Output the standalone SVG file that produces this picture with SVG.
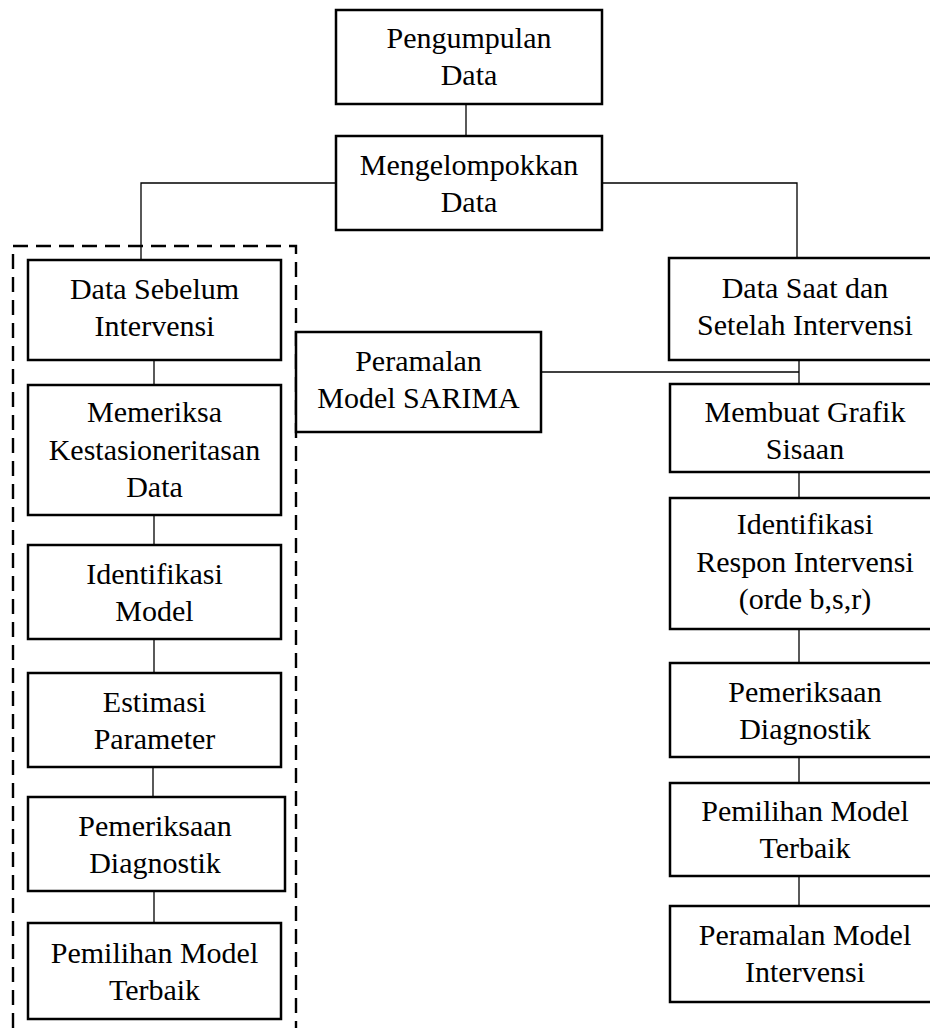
<svg xmlns="http://www.w3.org/2000/svg" width="930" height="1028" viewBox="0 0 930 1028">
<style>
.box{fill:#fff;stroke:#000;stroke-width:2.5}
.t{font-family:"Liberation Serif","Times New Roman",serif;font-size:30px;fill:#000;text-anchor:middle}
.c{fill:none;stroke:#000;stroke-width:1.3}
.dash{fill:none;stroke:#000;stroke-width:2.4;stroke-dasharray:15 8}
</style>
<rect width="930" height="1028" fill="#fff"/>
<path class="dash" d="M13,1028 V246 H296 V1028"/>
<g id="connectors">
<path class="c" d="M466,104 V136"/>
<path class="c" d="M336,183 H141 V260"/>
<path class="c" d="M602,183 H797 V258"/>
<path class="c" d="M154,360 V385"/>
<path class="c" d="M154,515 V545"/>
<path class="c" d="M154,639 V673"/>
<path class="c" d="M153,767 V797"/>
<path class="c" d="M154,891 V923"/>
<path class="c" d="M541,372 H799"/>
<path class="c" d="M799,360 V384"/>
<path class="c" d="M799,472 V498"/>
<path class="c" d="M799,629 V663"/>
<path class="c" d="M799,757 V783"/>
<path class="c" d="M799,876 V906"/>
</g>
<g id="n1"><rect class="box" x="336" y="10" width="266" height="94"/><text class="t" x="469" y="48">Pengumpulan</text><text class="t" x="469" y="85">Data</text></g>
<g id="n2"><rect class="box" x="336" y="136" width="266" height="94"/><text class="t" x="469" y="175">Mengelompokkan</text><text class="t" x="469" y="212">Data</text></g>
<g id="n3"><rect class="box" x="28" y="260" width="253" height="100"/><text class="t" x="154.5" y="299">Data Sebelum</text><text class="t" x="154.5" y="336">Intervensi</text></g>
<g id="n4"><rect class="box" x="28" y="385" width="253" height="130"/><text class="t" x="154.5" y="422">Memeriksa</text><text class="t" x="154.5" y="460">Kestasioneritasan</text><text class="t" x="154.5" y="497">Data</text></g>
<g id="n5"><rect class="box" x="28" y="545" width="253" height="94"/><text class="t" x="154.5" y="584">Identifikasi</text><text class="t" x="154.5" y="621">Model</text></g>
<g id="n6"><rect class="box" x="28" y="673" width="253" height="94"/><text class="t" x="154.5" y="712">Estimasi</text><text class="t" x="154.5" y="749">Parameter</text></g>
<g id="n7"><rect class="box" x="28" y="797" width="257" height="94"/><text class="t" x="155" y="836">Pemeriksaan</text><text class="t" x="155" y="873">Diagnostik</text></g>
<g id="n8"><rect class="box" x="28" y="923" width="253" height="96"/><text class="t" x="154.5" y="963">Pemilihan Model</text><text class="t" x="154.5" y="1000">Terbaik</text></g>
<g id="n9"><rect class="box" x="296" y="332" width="245" height="100"/><text class="t" x="418.5" y="371">Peramalan</text><text class="t" x="418.5" y="408">Model SARIMA</text></g>
<g id="n10"><rect class="box" x="669" y="258" width="280" height="102"/><text class="t" x="805" y="298">Data Saat dan</text><text class="t" x="805" y="335">Setelah Intervensi</text></g>
<g id="n11"><rect class="box" x="670" y="384" width="280" height="88"/><text class="t" x="805" y="422">Membuat Grafik</text><text class="t" x="805" y="459">Sisaan</text></g>
<g id="n12"><rect class="box" x="670" y="498" width="280" height="131"/><text class="t" x="805" y="534">Identifikasi</text><text class="t" x="805" y="572">Respon Intervensi</text><text class="t" x="805" y="609">(orde b,s,r)</text></g>
<g id="n13"><rect class="box" x="670" y="663" width="280" height="94"/><text class="t" x="805" y="702">Pemeriksaan</text><text class="t" x="805" y="739">Diagnostik</text></g>
<g id="n14"><rect class="box" x="670" y="783" width="280" height="93"/><text class="t" x="805" y="821">Pemilihan Model</text><text class="t" x="805" y="858">Terbaik</text></g>
<g id="n15"><rect class="box" x="670" y="906" width="280" height="96"/><text class="t" x="805" y="945">Peramalan Model</text><text class="t" x="805" y="982">Intervensi</text></g>
</svg>
